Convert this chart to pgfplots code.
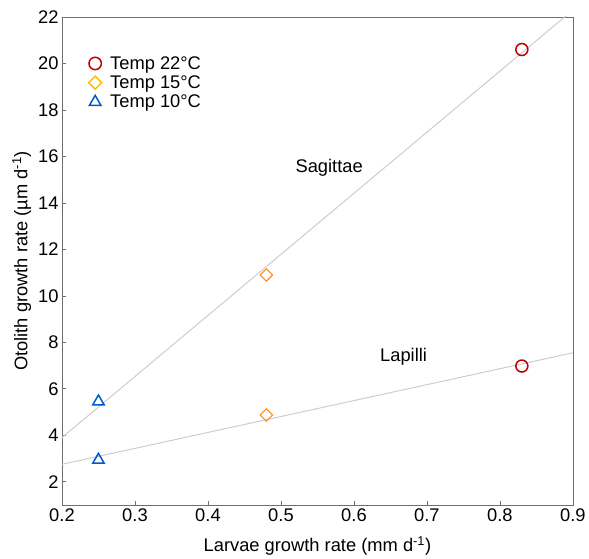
\documentclass[border=0pt]{standalone}
\usepackage{pgfplots}
\pgfplotsset{compat=1.18}
\usepackage{fontspec}
\setmainfont{Liberation Sans}
\definecolor{cred}{RGB}{192,0,0}
\definecolor{corange}{RGB}{255,140,30}
\definecolor{cyellow}{RGB}{255,190,0}
\definecolor{cblue}{RGB}{0,90,200}
\definecolor{lgray}{RGB}{205,205,205}
\definecolor{agray}{RGB}{110,110,110}
\begin{document}
\begin{tikzpicture}
\begin{axis}[
  scale only axis,
  width=511pt, height=488pt,
  xmin=0.2, xmax=0.9, ymin=1, ymax=22,
  xtick={0.2,0.3,...,0.9},
  ytick={2,4,...,22},
  xticklabel style={/pgf/number format/fixed,/pgf/number format/precision=1,/pgf/number format/fixed zerofill},
  /pgf/number format/assume math mode=true,
  tick align=inside,
  xtick pos=bottom, ytick pos=left,
  major tick length=4pt,
  axis line style={agray, line width=0.9pt},
  tick style={agray, line width=0.6pt},
  tick label style={font=\fontsize{18.3}{21}\selectfont},
  label style={font=\fontsize{18.3}{21}\selectfont},
  xlabel={Larvae growth rate (mm d\textsuperscript{-1})},
  xlabel style={yshift=-8pt},
  ylabel={Otolith growth rate (µm d\textsuperscript{-1})},
  legend style={draw=none, fill=none, at={(0.046,0.927)}, anchor=north west, font=\fontsize{18.3}{21}\selectfont, row sep=2pt, column sep=7pt, legend cell align=left, nodes={inner sep=1.5pt}},
  clip=true,
]
\addlegendimage{only marks, mark=o, mark size=6.2pt, cred, line width=1.5pt}
\addlegendentry{Temp 22°C}
\addlegendimage{only marks, mark=square, mark options={rotate=45}, mark size=4.6pt, cyellow, line width=1.5pt}
\addlegendentry{Temp 15°C}
\addlegendimage{only marks, mark=triangle, mark size=6.6pt, cblue, line width=1.5pt}
\addlegendentry{Temp 10°C}
% fitted lines
\addplot[lgray, line width=1pt, forget plot] coordinates {(0.2,3.90) (0.9,22.3)};
\addplot[lgray, line width=1pt, forget plot] coordinates {(0.2,2.75) (0.9,7.55)};
% data
\addplot[only marks, mark=o, mark size=6pt, cred, line width=1.5pt, forget plot] coordinates {(0.83,20.6) (0.83,6.98)};
\addplot[only marks, mark=square, mark options={rotate=45}, mark size=4.4pt, corange, line width=1.1pt, forget plot] coordinates {(0.48,10.9) (0.48,4.87)};
\addplot[only marks, mark=triangle, mark size=6.6pt, cblue, line width=1.5pt, forget plot] coordinates {(0.25,5.45) (0.25,2.94)};
\node[font=\fontsize{18.3}{21}\selectfont] at (axis cs:0.566,15.5) {Sagittae};
\node[font=\fontsize{18.3}{21}\selectfont] at (axis cs:0.668,7.37) {Lapilli};
\end{axis}
\path (current axis.outer west) ++(-9pt,0);
\path (current axis.north) ++(0,17pt);
\end{tikzpicture}
\end{document}
